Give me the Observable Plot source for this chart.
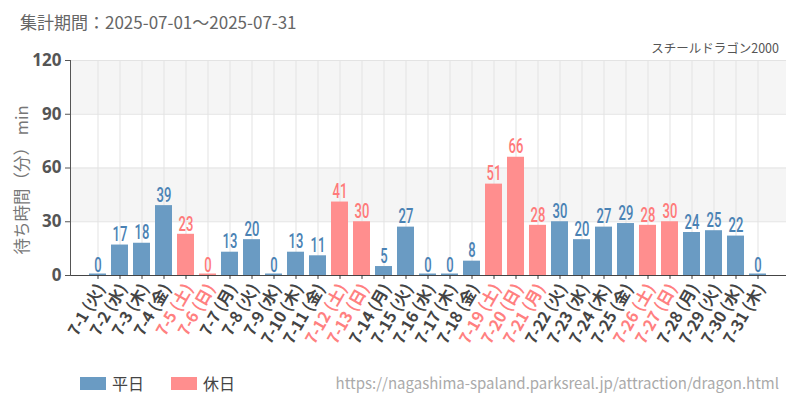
<!DOCTYPE html>
<html><head><meta charset="utf-8">
<script src="https://cdn.jsdelivr.net/npm/d3@7"></script>
<script src="https://cdn.jsdelivr.net/npm/@observablehq/plot@0.6"></script>
<style>
body{margin:0;background:#fff;font-family:"Noto Sans CJK JP","Noto Sans",sans-serif;}
#wrap{position:relative;width:800px;height:400px;overflow:hidden;}
#chart{position:absolute;left:0;top:0;}
.t{position:absolute;white-space:nowrap;}
</style></head>
<body><div id="wrap"><div id="chart"></div>
<div class="t" style="left:20px;top:9px;font-size:17px;color:#666;">集計期間：2025-07-01～2025-07-31</div>
<div class="t" style="right:21px;top:38px;font-size:12.5px;color:#555;">スチールドラゴン2000</div>
<div class="t" style="left:80px;top:371px;font-size:16px;color:#444;display:flex;align-items:center;"><span style="display:inline-block;width:26px;height:13px;background:#6a9bc3;margin-right:6px;"></span>平日<span style="display:inline-block;width:26px;height:13px;background:#ff8e8e;margin-left:27px;margin-right:6px;"></span>休日</div>
<div class="t" style="right:21px;top:372px;font-size:15px;color:#aaa;">https://nagashima-spaland.parksreal.jp/attraction/dragon.html</div>
<div class="t" style="left:21px;top:180px;transform:translate(-50%,-50%) rotate(-90deg);transform-origin:center;font-size:16.5px;color:#777;">待ち時間（分） min</div>
</div>
<script>
const days = ["7-1","7-2","7-3","7-4","7-5","7-6","7-7","7-8","7-9","7-10","7-11","7-12","7-13","7-14","7-15","7-16","7-17","7-18","7-19","7-20","7-21","7-22","7-23","7-24","7-25","7-26","7-27","7-28","7-29","7-30","7-31"];
const weekdays = ["火","水","木","金","土","日","月","火","水","木","金","土","日","月","火","水","木","金","土","日","月","火","水","木","金","土","日","月","火","水","木"];
const waits = [0,17,18,39,23,0,13,20,0,13,11,41,30,5,27,0,0,8,51,66,28,30,20,27,29,28,30,24,25,22,0];
const holidays = ["7-5","7-6","7-12","7-13","7-19","7-20","7-21","7-26","7-27"];
const yTicks = [0,30,60,90,120];
const bands = [{y1:30,y2:60},{y1:90,y2:120}];

const data = days.map((d,i)=>({day:d, label:`${d} (${weekdays[i]})`, v:waits[i], hol:holidays.includes(d)}));
const barColor = d => d.hol ? "#ff8e8e" : "#6a9bc3";
const textColor = d => d.hol ? "#ff7a7a" : "#4a82b4";

const chart = Plot.plot({
  width:800, height:400,
  marginLeft:70, marginRight:14, marginTop:60, marginBottom:125,
  x:{type:"band", domain:days, padding:0.22, axis:null},
  y:{domain:[0,120], axis:null},
  marks:[
    Plot.rectY(bands,{y1:"y1", y2:"y2", fill:"#f5f5f5"}),
    Plot.ruleY(yTicks,{stroke:"#e3e3e3"}),
    Plot.ruleX(days,{x:d=>d, stroke:"#e3e3e3"}),
    Plot.barY(data,{x:"day", y:"v", fill:barColor}),
    Plot.tickY(data.filter(d=>d.v===0),{x:"day", y:0, dy:-1, stroke:barColor, strokeWidth:2}),
    Plot.ruleY([0],{stroke:"#444"}),
    Plot.frame({anchor:"left", stroke:"#555"}),
    Plot.ruleX(days,{x:d=>d, y1:0, y2:-2.2, stroke:"#333"}),
    Plot.text(data,{x:"day", y:"v", text:d=>String(d.v), dy:-10.5, fill:textColor, fontSize:21, fontFamily:"Roboto", fontWeight:500, className:"vlab"}),
    Plot.text(data,{x:"day", y:0, text:"label", dy:10, dx:3, rotate:-60, textAnchor:"end", lineAnchor:"middle", fill:d=>d.hol?"#ff8080":"#444", fontSize:16, fontWeight:"bold", fontFamily:"Noto Sans CJK JP"}),
    Plot.axisY({ticks:yTicks, tickSize:5, tickPadding:4, stroke:"#555", fill:"#555", fontSize:17, fontWeight:"bold", fontFamily:"Noto Sans", label:null})
  ]
});
document.getElementById("chart").appendChild(chart);
// condensed look for the value labels: compress glyphs without moving them
chart.querySelectorAll(".vlab text").forEach(t => {
  const w = t.getComputedTextLength();
  if (w > 0) {
    t.setAttribute("textLength", (w * 0.62).toFixed(2));
    t.setAttribute("lengthAdjust", "spacingAndGlyphs");
  }
});
</script>
</body></html>
